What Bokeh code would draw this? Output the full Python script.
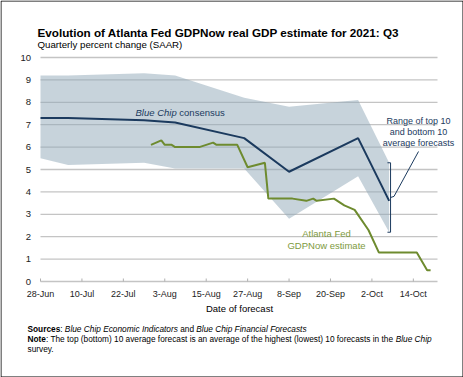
import pandas as pd
from bokeh.plotting import figure
from bokeh.models import Range1d
from bokeh.core.properties import value
from bokeh.embed import file_html
from bokeh.resources import INLINE

# ---------------- data ----------------
origin = "2021-06-28"
x_end = "2021-10-21"
tick_dates = ["2021-06-28", "2021-07-10", "2021-07-22", "2021-08-03", "2021-08-15",
              "2021-08-27", "2021-09-08", "2021-09-20", "2021-10-02", "2021-10-14"]
tick_labels = ["28-Jun", "10-Jul", "22-Jul", "3-Aug", "15-Aug",
               "27-Aug", "8-Sep", "20-Sep", "2-Oct", "14-Oct"]
y_ticks = [0, 1, 2, 3, 4, 5, 6, 7, 8, 9, 10]

survey_dates = ["2021-06-28", "2021-07-06", "2021-07-28", "2021-08-06",
                "2021-08-26", "2021-09-08", "2021-09-28", "2021-10-07"]
consensus = [7.3, 7.3, 7.2, 7.1, 6.4, 4.9, 6.4, 3.6]
top10 = [9.2, 9.2, 9.3, 9.2, 8.2, 7.8, 8.1, 5.3]
bottom10 = [5.5, 5.2, 5.3, 5.05, 5.05, 2.8, 4.7, 2.2]

gdpnow_dates = ["2021-07-30", "2021-08-02", "2021-08-03", "2021-08-05", "2021-08-06",
                "2021-08-13", "2021-08-17", "2021-08-18", "2021-08-24", "2021-08-27",
                "2021-09-01", "2021-09-02", "2021-09-09", "2021-09-13", "2021-09-15",
                "2021-09-16", "2021-09-21", "2021-09-22", "2021-09-23", "2021-09-24",
                "2021-09-27", "2021-10-01", "2021-10-04", "2021-10-15", "2021-10-18",
                "2021-10-19"]
gdpnow = [6.1, 6.3, 6.1, 6.1, 6.0,
          6.0, 6.2, 6.1, 6.1, 5.1,
          5.3, 3.7, 3.7, 3.6, 3.7,
          3.6, 3.7, 3.6, 3.5, 3.4,
          3.2, 2.3, 1.3, 1.3, 0.5,
          0.5]

title = "Evolution of Atlanta Fed GDPNow real GDP estimate for 2021: Q3"
subtitle = "Quarterly percent change (SAAR)"
x_title = "Date of forecast"

# ---------------- layout (pixels of the 463x377 picture) ----------------
W, H = 463, 377          # canvas
OFF = 0
PLOT_L, PLOT_R = 40, 437 # chart area, page pixels
PLOT_T, PLOT_B = 57, 281

o = pd.Timestamp(origin)
def days(ds):
    return [(pd.Timestamp(d) - o).days for d in ds]

x_max = (pd.Timestamp(x_end) - o).days
ppx = (PLOT_R - PLOT_L) / x_max
ppy = (PLOT_B - PLOT_T) / (y_ticks[-1] - y_ticks[0])

def X(px):  # page pixel -> data x
    return (px - PLOT_L) / ppx
def Y(py):  # page pixel -> data y
    return (PLOT_B - py) / ppy

FONT = "Liberation Sans"
NAVY = "#1b3a5e"
GREEN = "#6e8b2f"
GREEN_TXT = "#7e9a3e"
GRID = "#c4c4c4"

# Arial / Liberation Sans advance widths (1/1000 em)
_W = {' ': 278, ':': 278, '.': 278, '(': 333, ')': 333, '-': 333}
for c in "0123456789":
    _W[c] = 556
_W.update(dict(A=667, B=667, C=722, D=722, E=667, F=611, G=778, H=722, I=278, N=722,
               P=667, Q=778, R=722, S=667, T=611))
_W.update(dict(a=556, b=556, c=500, d=556, e=556, f=278, g=556, h=556, i=222, j=222,
               k=500, l=222, m=833, n=556, o=556, p=556, q=556, r=333, s=500, t=278,
               u=556, v=500, w=722, x=500, y=500, z=500))
_WB = dict(_W)
_WB.update(dict(o=611, u=611, r=389, c=556, s=556, t=333, e=556))
_WB[':'] = 333
def textw(s, size, bold=False):
    tab = _WB if bold else _W
    return sum(tab.get(ch, 556) for ch in s) * size / 1000.0

# ---------------- figure ----------------
p = figure(width=W, height=H, output_backend="svg", toolbar_location=None, title=None,
           x_range=Range1d(X(OFF), X(OFF + W)), y_range=Range1d(Y(OFF + H), Y(OFF)),
           x_axis_type=None, y_axis_type=None, min_border=0)
p.outline_line_color = None
p.grid.visible = False
p.background_fill_color = "white"
p.border_fill_color = "white"

# gridlines
p.segment(x0=[0] * len(y_ticks), x1=[x_max] * len(y_ticks), y0=y_ticks, y1=y_ticks,
          line_color=GRID, line_width=1.3)

tick_x = days(tick_dates)
p.segment(x0=tick_x, x1=tick_x, y0=[0] * len(tick_x), y1=[3 / ppy] * len(tick_x),
          line_color="#b0b0b0", line_width=1)

def txt(x, y, s, size, color="#000000", style="normal", align="left", baseline="middle"):
    if not isinstance(x, list):
        x, y, s = [x], [y], [s]
    p.text(x=x, y=y, text=s, text_font=value(FONT), text_font_size=value(f"{size}px"),
           text_color=color, text_font_style=style, text_align=align,
           text_baseline=baseline)

# tick labels
txt(tick_x, [Y(293)] * len(tick_x), tick_labels, 9, "#222222", align="center")
txt([X(30.5)] * len(y_ticks), y_ticks, [str(t) for t in y_ticks], 9.5, "#222222",
    align="right")

# band and lines
sx = days(survey_dates)
p.varea(x=sx, y1=bottom10, y2=top10, fill_color="#8fa8b8", fill_alpha=0.5)
p.line(sx, consensus, line_color=NAVY, line_width=2)
p.line(days(gdpnow_dates), gdpnow, line_color=GREEN, line_width=2)

# bracket marking the range at the last survey
bx = sx[-1] + 0.4
p.segment(x0=[bx, bx - 0.9, bx - 0.9], y0=[bottom10[-1], top10[-1], bottom10[-1]],
          x1=[bx, bx, bx], y1=[top10[-1], top10[-1], bottom10[-1]],
          line_color=NAVY, line_width=1)
mid = (top10[-1] + bottom10[-1]) / 2
p.line([bx, bx + 1.0, X(418)], [mid, mid + 0.05, Y(151)], line_color=NAVY, line_width=1)

# title
txt(X(37), Y(31.5), title, 11.7, style="bold")
txt(X(37), Y(43.5), subtitle, 9.7)

# Blue Chip consensus
txt(X(135), Y(112), "Blue Chip", 9.5, NAVY, "italic")
txt(X(135) + textw("Blue Chip ", 9.5) / ppx, Y(112), "consensus", 9.5, NAVY)

# range annotation
for i, s in enumerate(["Range of top 10", "and bottom 10", "average forecasts"]):
    txt(X(418), Y(120 + 11 * i), s, 9, NAVY, align="center")

# GDPNow label
txt(X(326), Y(233), "Atlanta Fed", 9.5, GREEN_TXT, align="center")
txt(X(326), Y(245), "GDPNow estimate", 9.5, GREEN_TXT, align="center")

# axis title
txt(X(239), Y(308), x_title, 9.5, align="center")

# footnotes (pieces placed one after another; spaces handled as advances)
fs = 8.3
def runs(py, parts, px=27):
    for s, style in parts:
        bold = style == "bold"
        lead = len(s) - len(s.lstrip(" "))
        px += textw(" " * lead, fs, bold)
        core = s.strip(" ")
        txt(X(px), Y(py), core, fs, "#000000", style)
        px += textw(s.lstrip(" "), fs, bold)

runs(328.5, [("Sources", "bold"), (": ", "normal"), ("Blue Chip Economic Indicators", "italic"),
             (" and ", "normal"), ("Blue Chip Financial Forecasts", "italic")])
runs(338.5, [("Note", "bold"),
             (": The top (bottom) 10 average forecast is an average of the highest (lowest) 10 forecasts in the ", "normal"),
             ("Blue Chip", "italic")])
runs(348.5, [("survey.", "normal")])

# outer frame
p.quad(left=X(OFF + 0.5), right=X(OFF + W - 0.5), bottom=Y(OFF + H - 0.5), top=Y(OFF + 0.5),
       fill_color=None, line_color="#000000", line_width=1)

open("out.html", "w").write(file_html(p, INLINE))
